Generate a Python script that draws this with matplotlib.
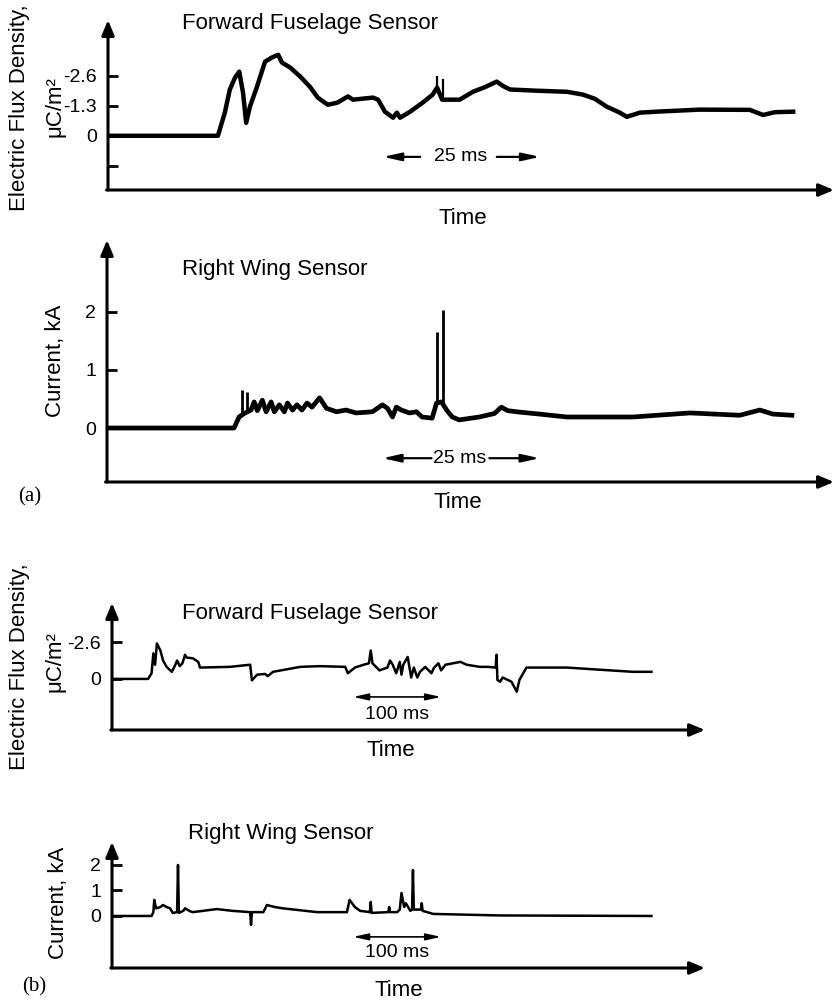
"""Aircraft sensor records: electric flux density and current vs time."""
import matplotlib
matplotlib.use("Agg")
import matplotlib.pyplot as plt
import numpy as np

plt.rcParams["font.family"] = ["Liberation Sans", "DejaVu Sans"]

W, H = 835, 1000

# (a) forward fuselage sensor: time (ms), electric flux density (uC/m^2)
a_flux_t = [0, 17.5, 18.6, 19.4, 20.2, 20.9, 21.5, 22.0, 22.6, 23.7, 25.0, 26.1, 27.1,
            27.7, 29.0, 30.6, 32.2, 33.4, 35.0, 36.5, 38.2, 39.0, 42.2, 43.0, 44.1,
            45.4, 46.0, 46.5, 48.1, 50.1, 51.7, 52.4, 53.2, 54.0, 56.0, 58.1, 60.0,
            61.9, 62.9, 64.0, 68.0, 73.1, 75.6, 77.5, 79.4, 81.5, 82.6, 84.7, 87.9,
            94.2, 102.2, 104.3, 106.2, 109.1]
a_flux_v = [0, 0, -1.0, -2.0, -2.5, -2.77, -1.86, -0.56, -1.26, -2.1, -3.2, -3.38, -3.5,
            -3.16, -2.95, -2.56, -2.1, -1.65, -1.34, -1.43, -1.7, -1.56, -1.65, -1.56, -1.04,
            -0.78, -1.0, -0.78, -1.04, -1.43, -1.78, -2.08, -1.56, -1.56, -1.56, -1.9, -2.1,
            -2.34, -2.15, -2.0, -1.95, -1.9, -1.78, -1.6, -1.26, -1.0, -0.82, -1.0, -1.05,
            -1.13, -1.12, -0.9, -1.02, -1.04]
a_flux_spike_t = [52.4, 53.3]
a_flux_spike_v = [-2.6, -2.45]

# (a) right wing sensor: time (ms), current (kA)
a_cur_t = [0, 20.2, 21.0, 21.8, 22.9, 23.4, 23.9, 24.7, 25.3, 26.1, 26.6, 27.4, 28.2,
           28.7, 29.5, 30.2, 31.0, 31.8, 32.6, 33.8, 34.9, 36.5, 38.0, 39.6, 42.2,
           43.8, 44.6, 45.4, 46.0, 46.8, 48.1, 49.2, 50.1, 51.7, 52.4, 53.2, 54.0,
           54.9, 56.0, 59.2, 61.6, 62.7, 63.7, 65.1, 68.8, 73.1, 83.6, 92.7, 100.6,
           103.8, 105.9, 108.9]
a_cur_v = [0, 0, 0.19, 0.25, 0.31, 0.45, 0.3, 0.48, 0.28, 0.45, 0.28, 0.4, 0.28,
           0.43, 0.31, 0.4, 0.31, 0.43, 0.36, 0.52, 0.34, 0.28, 0.31, 0.26, 0.28,
           0.4, 0.34, 0.19, 0.36, 0.31, 0.26, 0.28, 0.19, 0.17, 0.43, 0.45, 0.31,
           0.19, 0.14, 0.19, 0.25, 0.36, 0.3, 0.28, 0.24, 0.19, 0.19, 0.26, 0.22,
           0.31, 0.24, 0.22]
a_cur_spike_t = [21.5, 22.3, 52.5, 53.4]
a_cur_spike_v = [0.66, 0.62, 1.65, 2.03]

# (b) forward fuselage sensor
b_flux_t = [0, 41, 45, 47, 49, 51, 55, 58, 62, 68, 72, 74, 77, 80, 83, 85, 92, 98, 100,
            134, 157, 159, 165, 174, 177, 183, 214, 236, 265, 268, 276, 286, 292, 294,
            296, 304, 313, 316, 319, 323, 327, 329, 331, 336, 340, 343, 347, 350, 356,
            363, 366, 371, 374, 379, 396, 403, 418, 427, 436, 437, 438, 441, 444, 454,
            460, 463, 471, 483, 517, 554, 592, 613]
b_flux_v = [0, 0, -0.4, -1.8, -1.0, -2.5, -2.0, -1.3, -0.85, -0.5, -1.0, -1.3, -0.9, -1.1,
            -1.7, -1.5, -1.45, -1.2, -0.8, -0.85, -1.0, 0.1, -0.3, -0.35, -0.2, -0.5,
            -0.85, -0.9, -0.85, -0.4, -0.8, -1.0, -1.1, -2.0, -1.1, -0.6, -0.8, -1.3,
            -1.0, -0.4, -1.2, -0.3, -1.0, -1.55, -0.1, -0.8, -0.1, -0.5, -0.85, -0.4,
            -0.8, -1.1, -0.6, -1.0, -1.2, -1.0, -0.85, -0.85, -0.8, -1.7, 0.07, 0.2,
            -0.1, 0.2, 0.9, 0.07, -0.8, -0.8, -0.8, -0.65, -0.5, -0.5]

# (b) right wing sensor
b_cur_t = [0, 45, 47, 48, 50, 55, 58, 62, 66, 69, 74, 75, 76, 81, 83, 89, 92, 119, 137,
           157, 158, 159, 172, 176, 185, 194, 233, 267, 270, 276, 282, 293, 294, 295,
           314, 315, 316, 324, 327, 329, 332, 334, 339, 341, 342, 343, 351, 352, 353,
           365, 441, 613]
b_cur_v = [0, 0, 0.15, 0.63, 0.3, 0.35, 0.43, 0.35, 0.3, 0.12, 0.15, 2.0, 0.12, 0.2, 0.3,
           0.18, 0.15, 0.27, 0.2, 0.15, -0.35, 0.15, 0.15, 0.43, 0.35, 0.3, 0.15, 0.15,
           0.63, 0.35, 0.2, 0.15, 0.55, 0.12, 0.15, 0.35, 0.15, 0.15, 0.25, 0.9, 0.35,
           0.5, 0.2, 0.25, 1.8, 0.25, 0.25, 0.5, 0.2, 0.08, 0.02, 0.0]

flux_ticks_a = [-2.6, -1.3, 0, 1.3]
flux_labels_a = ["-2.6", "-1.3", "0", ""]
flux_ticks_b = [-2.6, 0]
flux_labels_b = ["-2.6", "0"]
cur_ticks = [0, 1, 2]
cur_labels = ["0", "1", "2"]


def px_axes(fig, left, top, right, bottom):
    return fig.add_axes([left / W, 1 - bottom / H, (right - left) / W, (bottom - top) / H])


def arrow_axes(ax, xlim, ylim, yticks, ylabels):
    ax.set_xlim(*xlim)
    ax.set_ylim(*ylim)
    for s in ax.spines.values():
        s.set_visible(False)
    ax.set_xticks([])
    ax.set_yticks(yticks)
    ax.set_yticklabels(ylabels)
    ax.tick_params(axis="y", direction="in", length=7, width=2, labelsize=14, pad=8)
    head = "-|>,head_length=0.6,head_width=0.25"
    ax.annotate("", xy=(0, 1.0), xytext=(0, 0), xycoords="axes fraction",
                arrowprops=dict(arrowstyle=head, lw=2.2, color="k", shrinkA=0, shrinkB=0,
                                mutation_scale=15))
    ax.annotate("", xy=(1.0, 0), xytext=(-0.002, 0), xycoords="axes fraction",
                arrowprops=dict(arrowstyle=head, lw=2.2, color="k", shrinkA=0, shrinkB=0,
                                mutation_scale=15))


def span_label(ax, text, tc, t_in_l, t_in_r, t_l, t_r, y, size=14, lw=1.6):
    ax.text(tc, y, text, ha="center", va="center", fontsize=size)
    for a, b in ((t_in_l, t_l), (t_in_r, t_r)):
        ax.annotate("", xy=(b, y), xytext=(a, y),
                    arrowprops=dict(arrowstyle="-|>,head_length=0.9,head_width=0.2",
                                    lw=lw, color="k", shrinkA=0, shrinkB=0, mutation_scale=12))


def spikes(ax, t, v, trace_t, trace_v, lw=1.8):
    base = np.interp(t, trace_t, trace_v)
    ax.vlines(t, base, v, color="k", lw=lw)


def ftext(x, y, s, **kw):
    fig.text(x / W, 1 - y / H, s, ha="center", va="center", **kw)


fig = plt.figure(figsize=(W / 100, H / 100), dpi=100)

# (a) top
ax1 = px_axes(fig, 108, 20, 834, 190)
arrow_axes(ax1, (0, 115.6), (2.34, -5.0), flux_ticks_a, flux_labels_a)
ax1.plot(a_flux_t, a_flux_v, color="k", lw=3.2, solid_joinstyle="round")
spikes(ax1, a_flux_spike_t, a_flux_spike_v, a_flux_t, a_flux_v, lw=1.6)
span_label(ax1, "25 ms", 56.2, 49.7, 61.9, 43.8, 68.8, 0.91)

# (a) bottom
ax2 = px_axes(fig, 107, 240, 834, 482)
arrow_axes(ax2, (0, 115.6), (-0.93, 3.24), cur_ticks, cur_labels)
ax2.plot(a_cur_t, a_cur_v, color="k", lw=3.4, solid_joinstyle="round")
spikes(ax2, a_cur_spike_t, a_cur_spike_v, a_cur_t, a_cur_v, lw=2.0)
span_label(ax2, "25 ms", 56.1, 51.6, 60.8, 43.8, 68.8, -0.52)

# (b) top
ax3 = px_axes(fig, 112, 603, 705, 730)
arrow_axes(ax3, (0, 673.9), (3.6, -5.35), flux_ticks_b, flux_labels_b)
ax3.plot(b_flux_t, b_flux_v, color="k", lw=1.8)
ax3.annotate("", xy=(274, 1.27), xytext=(374, 1.27),
             arrowprops=dict(arrowstyle="<|-|>,head_length=0.9,head_width=0.2", lw=1.2,
                             color="k", shrinkA=0, shrinkB=0, mutation_scale=10))
ax3.text(324, 2.54, "100 ms", ha="center", va="center", fontsize=14)

# (b) bottom
ax4 = px_axes(fig, 112, 842, 705, 968)
arrow_axes(ax4, (0, 673.9), (-2.04, 2.9), cur_ticks, cur_labels)
ax4.plot(b_cur_t, b_cur_v, color="k", lw=1.8)
ax4.annotate("", xy=(274, -0.82), xytext=(374, -0.82),
             arrowprops=dict(arrowstyle="<|-|>,head_length=0.9,head_width=0.2", lw=1.2,
                             color="k", shrinkA=0, shrinkB=0, mutation_scale=10))
ax4.text(324, -1.45, "100 ms", ha="center", va="center", fontsize=14)

# titles and labels
ftext(310, 23, "Forward Fuselage Sensor", fontsize=16)
ftext(275, 270, "Right Wing Sensor", fontsize=16)
ftext(310, 613, "Forward Fuselage Sensor", fontsize=16)
ftext(281, 834, "Right Wing Sensor", fontsize=16)

ftext(463, 218, "Time", fontsize=16)
ftext(458, 503, "Time", fontsize=16)
ftext(391, 750, "Time", fontsize=16)
ftext(399, 990, "Time", fontsize=16)

ftext(20, 108, "Electric Flux Density,", fontsize=16, rotation=90)
ftext(55, 107, "μC/m²", fontsize=16, rotation=90)
ftext(55, 361, "Current, kA", fontsize=16, rotation=90)
ftext(20, 667, "Electric Flux Density,", fontsize=16, rotation=90)
ftext(55, 662, "μC/m²", fontsize=16, rotation=90)
ftext(59, 903, "Current, kA", fontsize=16, rotation=90)

ftext(30, 497, "(a)", fontsize=15, family="Liberation Serif")
ftext(34, 987, "(b)", fontsize=15, family="Liberation Serif")

fig.savefig("out.png", dpi=100)
plt.close(fig)
